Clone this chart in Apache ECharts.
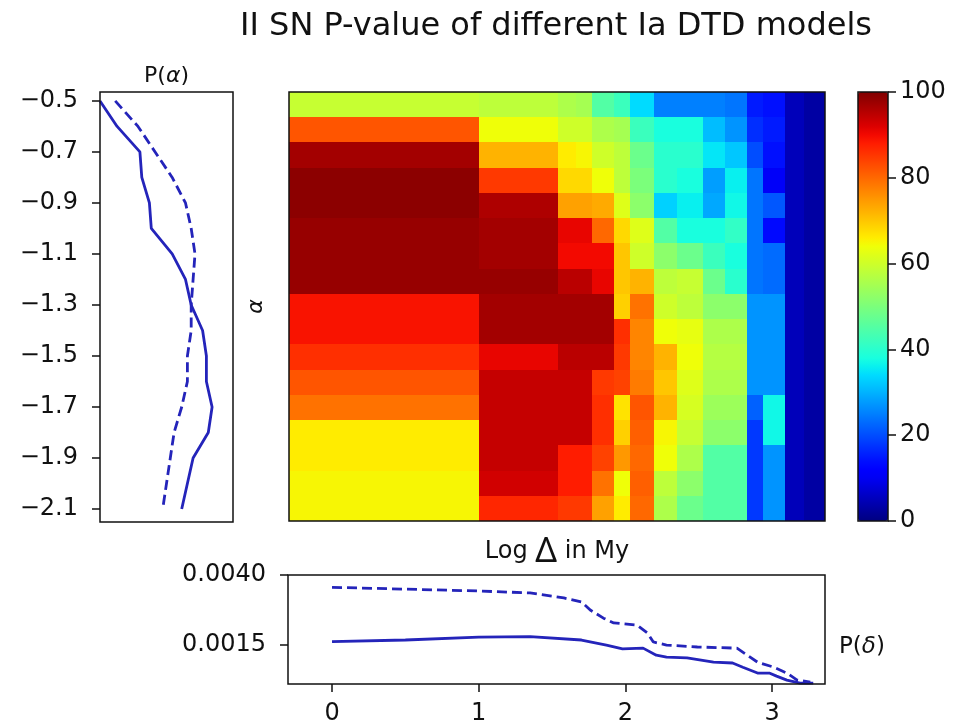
<!DOCTYPE html>
<html><head><meta charset="utf-8">
<script src="https://cdn.jsdelivr.net/npm/echarts@6/dist/echarts.min.js"></script>
<style>html,body{margin:0;padding:0;background:#fff}#c{width:968px;height:728px}</style>
</head><body><div id="c"></div>
<script>
// ---------------- data ----------------
const alphas = [-0.5,-0.6,-0.7,-0.8,-0.9,-1.0,-1.1,-1.2,-1.3,-1.4,-1.5,-1.6,-1.7,-1.8,-1.9,-2.0,-2.1];
const logDeltaEdges = [-0.3,1.0,1.18,1.36,1.54,1.66,1.77,1.92,2.03,2.19,2.35,2.53,2.68,2.83,2.94,3.09,3.22,3.36];
// P-value (%) rows, one per alpha (top -> bottom), one column per logDelta bin
const pValueRows = [
  [59,58,58,58,56,55,45,42,34,25,25,25,24,15,14,5,3],
  [82,64,64,64,60,60,56,55,42,38,38,31,27,17,15,5,3],
  [97,72,72,72,66,65,60,58,48,40,40,35,32,20,14,5,3],
  [99,85,85,85,68,68,64,58,50,40,38,28,36,24,11,5,3],
  [99,96,96,96,74,74,73,62,52,33,36,29,37,24,21,5,3],
  [98,97,97,97,91,91,80,68,62,45,38,38,41,24,13,5,3],
  [98,97,97,97,90,90,90,70,60,52,48,42,38,24,23,5,3],
  [98,98,98,98,95,95,91,70,72,58,59,48,40,24,23,5,3],
  [89,97,97,97,97,97,97,69,79,60,58,52,52,27,27,5,3],
  [89,97,97,97,97,97,97,86,77,64,63,56,56,27,27,5,3],
  [86,91,91,91,95,95,95,85,77,72,64,57,57,27,27,5,3],
  [82,94,94,94,94,94,85,84,78,70,62,56,56,27,27,5,3],
  [79,94,94,94,94,94,86,67,82,72,61,54,54,22,37,5,3],
  [66,94,94,94,94,94,86,69,81,65,59,52,52,18,37,5,3],
  [66,94,94,94,88,88,84,75,80,64,56,45,45,18,27,5,3],
  [65,93,93,93,88,88,79,64,81,58,52,45,45,18,27,5,3],
  [65,87,87,87,85,85,74,66,80,56,48,45,45,18,27,5,3]
];
// marginal P(alpha)
const pAlphaSolid  = [0.0000,0.0009,0.0021,0.0022,0.0026,0.0027,0.0038,0.0045,0.0048,0.0054,0.0056,0.0056,0.0059,0.0057,0.0049,0.0046,0.0043];
const pAlphaDashed = [0.0008,0.0020,0.0029,0.0038,0.0045,0.0048,0.0050,0.0049,0.0048,0.0048,0.0046,0.0046,0.0043,0.0039,0.0037,0.0035,0.0033];
// marginal P(delta)
const deltaSolidX  = [0,0.5,1.0,1.35,1.7,1.87,1.98,2.12,2.21,2.28,2.42,2.6,2.73,2.8,2.9,2.98,3.03,3.1,3.19,3.28];
const deltaSolidY  = [0.00162,0.00168,0.00178,0.00180,0.00168,0.00150,0.00136,0.00139,0.00114,0.00107,0.00104,0.00089,0.00086,0.00071,0.00050,0.00050,0.00039,0.00025,0.00014,0.00014];
const deltaDashedX = [0,1.0,1.35,1.58,1.7,1.76,1.85,1.92,2.08,2.15,2.19,2.28,2.49,2.76,2.83,2.9,3.01,3.1,3.17,3.26];
const deltaDashedY = [0.00356,0.00343,0.00336,0.00318,0.00304,0.00275,0.00246,0.00229,0.00221,0.00193,0.00161,0.00150,0.00143,0.00139,0.00114,0.00089,0.00071,0.00050,0.00025,0.00018];
// tick labels
const alphaTicks = [-0.5,-0.7,-0.9,-1.1,-1.3,-1.5,-1.7,-1.9,-2.1];
const deltaTicks = [0,1,2,3];
const pDeltaTicks = [0.0015,0.0040];

// ---------------- jet colormap ----------------
function seg(pts, v){for(let i=1;i<pts.length;i++){if(v<=pts[i][0]){const a=pts[i-1],b=pts[i];return a[1]+(b[1]-a[1])*(v-a[0])/(b[0]-a[0]);}}return pts[pts.length-1][1];}
function jet(v){
  const r=seg([[0,0],[0.35,0],[0.66,1],[0.89,1],[1,0.5]],v);
  const g=seg([[0,0],[0.125,0],[0.375,1],[0.64,1],[0.91,0],[1,0]],v);
  const b=seg([[0,0.5],[0.11,1],[0.34,1],[0.65,0],[1,0]],v);
  return 'rgb('+Math.round(r*255)+','+Math.round(g*255)+','+Math.round(b*255)+')';
}
const jetColors=[];for(let i=0;i<=50;i++)jetColors.push(jet(i/50));

const heatData=[];
pValueRows.forEach((row,r)=>row.forEach((v,c)=>heatData.push([c,r,v])));

const FONT='DejaVu Sans';
const LINE='#2424ba';
const tickFmtAlpha=v=>(v<0?'\u2212':'')+Math.abs(v).toFixed(1);
const frame={show:true,borderColor:'#111',borderWidth:1.5,backgroundColor:'transparent',z:10,outerBoundsMode:'none'};
const noLine={show:false,onZero:false};

const chart=echarts.init(document.getElementById('c'),null,{renderer:'canvas'});
chart.setOption({
  animation:false,
  backgroundColor:'#fff',
  textStyle:{fontFamily:FONT,color:'#000'},
  title:[
    {text:'II SN P-value of different Ia DTD models',left:551,top:6,textAlign:'center',
     textStyle:{fontFamily:FONT,fontSize:32,fontWeight:'normal',color:'#111'}},
    {text:'{n|P(}{i|δ}{n|)}',left:834,top:631,
     textStyle:{fontWeight:'normal',rich:{n:{fontFamily:FONT,fontSize:23,fontWeight:'normal',color:'#111'},i:{fontFamily:FONT,fontSize:23,fontWeight:'normal',fontStyle:'italic',color:'#111'}}}}
  ],
  grid:[
    Object.assign({left:289,top:92,width:536,height:429},frame),
    Object.assign({left:100,top:92,width:133,height:430},frame),
    Object.assign({left:288,top:575,width:537,height:109},frame),
    Object.assign({left:858,top:92,width:30,height:429},frame)
  ],
  xAxis:[
    {gridIndex:0,type:'value',min:-0.3,max:3.36,axisLine:noLine,axisTick:{show:false},axisLabel:{show:false},splitLine:{show:false},
     name:'{n|Log }{d|Δ}{n| in My}',nameLocation:'middle',nameGap:14,
     nameTextStyle:{verticalAlign:'top',rich:{n:{fontFamily:FONT,fontSize:24,color:'#111'},d:{fontFamily:'Noto Sans',fontSize:34,color:'#111'}}}},
    {gridIndex:1,type:'value',min:0,max:0.007,position:'top',axisLine:noLine,axisTick:{show:false},axisLabel:{show:false},splitLine:{show:false},
     name:'{n|P(}{i|α}{n|)}',nameLocation:'middle',nameGap:5,
     nameTextStyle:{rich:{n:{fontFamily:FONT,fontSize:22,color:'#111'},i:{fontFamily:FONT,fontSize:22,fontStyle:'italic',color:'#111'}}}},
    {gridIndex:2,type:'value',min:-0.3,max:3.36,axisLine:noLine,splitLine:{show:false},
     axisTick:{show:true,customValues:deltaTicks,length:8,lineStyle:{color:'#111',width:1.5}},
     axisLabel:{customValues:deltaTicks,formatter:v=>String(v),fontFamily:FONT,fontSize:24,color:'#111',margin:18}},
    {gridIndex:3,type:'value',min:0,max:1,show:false}
  ],
  yAxis:[
    {gridIndex:0,type:'value',min:-2.15,max:-0.45,axisLine:noLine,axisTick:{show:false},axisLabel:{show:false},splitLine:{show:false},
     name:'α',nameLocation:'middle',nameGap:22,nameRotate:90,
     nameTextStyle:{fontFamily:FONT,fontSize:22,fontStyle:'italic',color:'#111'}},
    {gridIndex:1,type:'value',min:-2.151,max:-0.465,axisLine:noLine,splitLine:{show:false},
     axisTick:{show:true,customValues:alphaTicks,length:8,lineStyle:{color:'#111',width:1.5}},
     axisLabel:{customValues:alphaTicks,formatter:tickFmtAlpha,fontFamily:FONT,fontSize:24,color:'#111',margin:22}},
    {gridIndex:2,type:'value',min:0.00011,max:0.0040,axisLine:noLine,splitLine:{show:false},
     axisTick:{show:true,customValues:pDeltaTicks,length:8,lineStyle:{color:'#111',width:1.5}},
     axisLabel:{customValues:pDeltaTicks,formatter:v=>v.toFixed(4),fontFamily:FONT,fontSize:24,color:'#111',margin:22}},
    {gridIndex:3,type:'value',min:0,max:100,interval:20,position:'right',axisLine:noLine,splitLine:{show:false},
     axisTick:{show:true,length:8,lineStyle:{color:'#111',width:1.5}},
     axisLabel:{fontFamily:FONT,fontSize:24,color:'#111',margin:12}}
  ],
  visualMap:{type:'continuous',min:0,max:100,dimension:2,seriesIndex:0,calculable:false,
    left:858,top:92,itemWidth:30,itemHeight:429,padding:0,text:null,showLabel:false,
    inRange:{color:jetColors}},
  series:[
    {type:'custom',xAxisIndex:0,yAxisIndex:0,data:heatData,
     renderItem:function(params,api){
       const c=api.value(0),r=api.value(1);
       const p0=api.coord([logDeltaEdges[c],alphas[r]+0.05]);
       const p1=api.coord([logDeltaEdges[c+1],alphas[r]-0.05]);
       const x0=Math.round(p0[0]),y0=Math.round(p0[1]),x1=Math.round(p1[0]),y1=Math.round(p1[1]);
       return {type:'rect',shape:{x:x0,y:y0,width:x1-x0,height:y1-y0},style:{fill:api.visual('color')}};
     }},
    {type:'line',xAxisIndex:1,yAxisIndex:1,showSymbol:false,data:alphas.map((a,i)=>[pAlphaSolid[i],a]),
     lineStyle:{color:LINE,width:2.8},itemStyle:{color:LINE}},
    {type:'line',xAxisIndex:1,yAxisIndex:1,showSymbol:false,data:alphas.map((a,i)=>[pAlphaDashed[i],a]),
     lineStyle:{color:LINE,width:2.8,type:[10,5]},itemStyle:{color:LINE}},
    {type:'line',xAxisIndex:2,yAxisIndex:2,showSymbol:false,data:deltaSolidX.map((x,i)=>[x,deltaSolidY[i]]),
     lineStyle:{color:LINE,width:2.8},itemStyle:{color:LINE}},
    {type:'line',xAxisIndex:2,yAxisIndex:2,showSymbol:false,data:deltaDashedX.map((x,i)=>[x,deltaDashedY[i]]),
     lineStyle:{color:LINE,width:2.8,type:[10,5]},itemStyle:{color:LINE}}
  ]
});
</script></body></html>
